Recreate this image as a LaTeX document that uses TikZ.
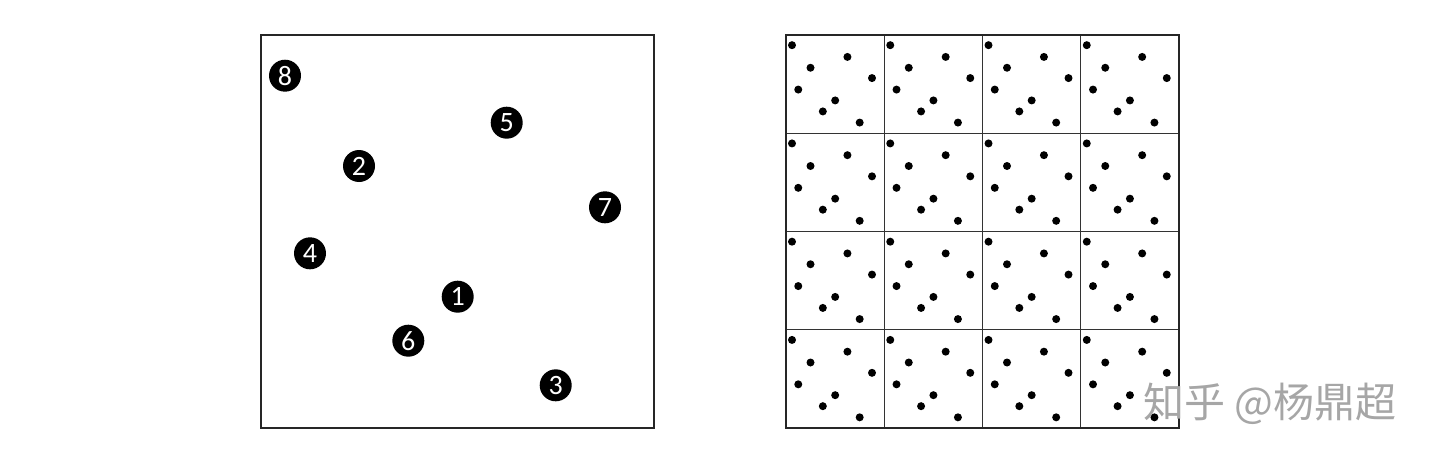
\documentclass[tikz,border=0pt]{standalone}
\usepackage{fontspec}
\setmainfont{Carlito}
\newfontfamily\cjkfont{Noto Sans CJK SC}
\begin{document}
\begin{tikzpicture}[x=1pt,y=-1pt,
  numdot/.style={circle,fill=black,minimum size=32pt,inner sep=0pt,text=white,font=\fontsize{28}{28}\selectfont},
  frame/.style={line width=1.1pt,draw=black!85},
  gridline/.style={line width=1.1pt,draw=black!80},
  smalldot/.style={fill=black}]
\useasboundingbox (0,0) rectangle (1440,463);
% left box
\draw[frame] (261,35) rectangle (654,428);
\foreach \n/\x/\y in {8/24/40.7,5/245.7/87.7,2/98/131,7/344/172.3,4/49/218.3,1/196.7/261.7,6/147.3/305.7,3/294.7/350.3}
  \node[numdot] (c\n) at ({261+\x},{35+\y}) {\n};
% right grid of tiles
\foreach \i in {0,...,3}{
  \foreach \j in {0,...,3}{
    \foreach \x/\y in {24/40.7,245.7/87.7,98/131,344/172.3,49/218.3,196.7/261.7,147.3/305.7,294.7/350.3}
      \fill[smalldot] ({786+\i*98.25+0.25*\x},{35+\j*98.25+0.25*\y}) circle (4pt);
  }
}
\foreach \k in {1,2,3}{
  \draw[gridline] ({786+\k*98.25},35) -- ({786+\k*98.25},428);
  \draw[gridline] (786,{35+\k*98.25}) -- (1179,{35+\k*98.25});
}
\draw[frame] (786,35) rectangle (1179,428);
% watermark
\node[text=black!35,font=\cjkfont\fontsize{41}{41}\selectfont] (wm) at (1270,404) {知乎 @杨鼎超};
\end{tikzpicture}
\end{document}
